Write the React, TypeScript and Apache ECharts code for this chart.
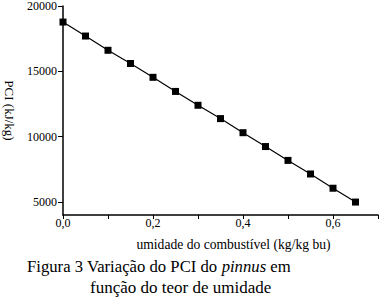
import React, { useEffect, useRef } from "react";
import * as echarts from "echarts";

const umidade = [0, 0.05, 0.1, 0.15, 0.2, 0.25, 0.3, 0.35, 0.4, 0.45, 0.5, 0.55, 0.6, 0.65];
const pci = [18770, 17700, 16610, 15600, 14540, 13460, 12400, 11380, 10300, 9240, 8180, 7140, 6050, 4990];
const yTicks = [5000, 10000, 15000, 20000];
const xLabelValues = [0, 0.2, 0.4, 0.6];

const SERIF = "Liberation Serif";

export default function App() {
  const ref = useRef<HTMLDivElement>(null);
  useEffect(() => {
    document.body.style.margin = "0";
    const chart = echarts.init(ref.current!, undefined, { renderer: "svg" });
    const data = umidade.map((x, i) => [x, pci[i]]);
    chart.setOption({
      animation: false,
      backgroundColor: "#ffffff",
      textStyle: { fontFamily: SERIF },
      grid: { left: 63, right: 1, top: 6, bottom: 85, containLabel: false, outerBoundsMode: "none" },
      xAxis: {
        type: "value",
        min: 0,
        max: 0.7,
        interval: 0.1,
        name: "umidade do combustível (kg/kg bu)",
        nameLocation: "middle",
        nameGap: 22,
        nameTextStyle: { fontFamily: SERIF, fontSize: 13.6, color: "#000", padding: [0, 0, 0, 26] },
        axisLine: { lineStyle: { color: "#000", width: 1.5 } },
        axisTick: { inside: false, length: 4, lineStyle: { color: "#000" } },
        splitLine: { show: false },
        axisLabel: {
          fontFamily: SERIF,
          fontSize: 12,
          color: "#000",
          margin: 2,
          formatter: (v: number) => {
            const hit = xLabelValues.find((t) => Math.abs(t - v) < 1e-6);
            return hit === undefined ? "" : hit.toFixed(1).replace(".", ",");
          },
        },
      },
      yAxis: {
        type: "value",
        min: 4000,
        max: 20000,
        name: "PCI (kJ/kg)",
        nameLocation: "middle",
        nameGap: 46,
        nameRotate: -90,
        nameTextStyle: { fontFamily: SERIF, fontSize: 13, color: "#000" },
        axisLine: { show: true, lineStyle: { color: "#000", width: 1.5 } },
        axisTick: { show: true, inside: false, length: 5, lineStyle: { color: "#000" }, customValues: yTicks },
        splitLine: { show: false },
        axisLabel: {
          fontFamily: SERIF,
          fontSize: 12,
          color: "#000",
          margin: 6,
          customValues: yTicks,
          formatter: (v: number) => String(v),
        },
      },
      series: [
        {
          type: "line",
          data,
          symbol: "rect",
          symbolSize: 7,
          itemStyle: { color: "#000" },
          lineStyle: { color: "#000", width: 1.2 },
        },
      ],
      graphic: [
        {
          type: "text",
          left: 27,
          top: 258,
          style: {
            text: "{a|Figura 3 Variação do PCI do }{i|pinnus}{a| em}",
            rich: {
              a: { fontFamily: SERIF, fontSize: 16.7, fill: "#000" },
              i: { fontFamily: SERIF, fontSize: 16.7, fontStyle: "italic", fill: "#000" },
            },
          },
        },
        {
          type: "text",
          left: 90,
          top: 279,
          style: {
            text: "função do teor de umidade",
            fontFamily: SERIF,
            fontSize: 17,
            fill: "#000",
          },
        },
      ],
    });
    return () => chart.dispose();
  }, []);
  return <div ref={ref} style={{ width: 379, height: 300 }} />;
}
